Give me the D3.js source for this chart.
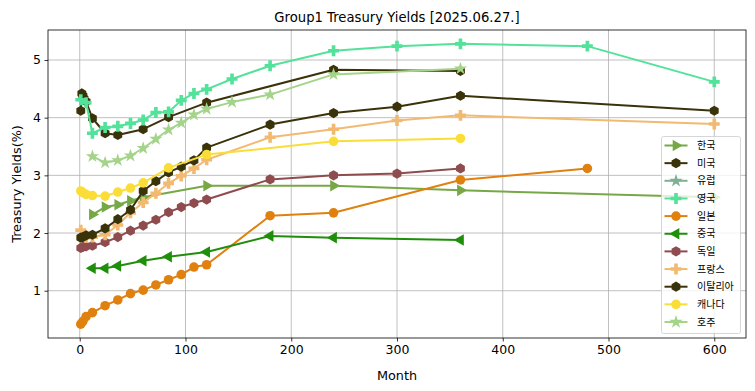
<!DOCTYPE html>
<html><head><meta charset="utf-8">
<script src="https://cdn.jsdelivr.net/npm/d3@7"></script>
<style>body{margin:0;background:#fff}svg{display:block}text{font-family:"DejaVu Sans",sans-serif}</style>
</head><body><div id="chart"></div>
<script>
const title = "Group1 Treasury Yields [2025.06.27.]";
const xTicks = [0,100,200,300,400,500,600];
const yTicks = [1,2,3,4,5];
const seriesNames = ["한국","미국","유럽","영국","일본","중국","독일","프랑스","이탈리아","캐나다","호주"];
const seriesColors = ["#77A846","#3A3209","#7FB093","#52E29A","#E0800F","#1F8F0B","#8F4C4F","#F1BA70","#3A3209","#FADE37","#A4D38A"];
const seriesMarkers = ["triRight","hex","star","plus","circle","triLeft","hex","plus","hex","circle","star"];

const koreaM = [12,24,36,48,60,120,240,360,600];
const koreaV = [2.32,2.45,2.49,2.56,2.62,2.82,2.82,2.74,2.62];
const usM = [1,2,3,4,6,12,24,36,60,84,120,240,360];
const usV = [4.12,4.42,4.38,4.33,4.28,3.99,3.73,3.70,3.80,4.01,4.26,4.83,4.81];
const euM = [];
const euV = [];
const ukM = [1,6,12,24,36,48,60,72,84,96,108,120,144,180,240,300,360,480,600];
const ukV = [4.31,4.26,3.73,3.83,3.85,3.90,3.96,4.09,4.10,4.30,4.42,4.49,4.67,4.90,5.16,5.24,5.28,5.24,4.62];
const jpM = [1,3,6,12,24,36,48,60,72,84,96,108,120,180,240,360,480];
const jpV = [0.42,0.47,0.55,0.62,0.74,0.84,0.95,1.01,1.10,1.19,1.28,1.41,1.45,2.30,2.35,2.92,3.12];
const cnM = [12,24,36,60,84,120,180,240,360];
const cnV = [1.39,1.39,1.43,1.52,1.59,1.67,1.95,1.92,1.88];
const deM = [1,3,6,12,24,36,48,60,72,84,96,108,120,180,240,300,360];
const deV = [1.74,1.76,1.77,1.78,1.84,1.93,2.04,2.13,2.23,2.36,2.45,2.52,2.58,2.93,3.00,3.03,3.12];
const frM = [1,3,6,12,24,36,48,60,72,84,96,108,120,180,240,300,360,600];
const frV = [2.05,1.95,1.92,1.93,1.97,2.14,2.35,2.53,2.69,2.86,2.99,3.12,3.27,3.66,3.80,3.95,4.04,3.89];
const itM = [1,3,6,12,24,36,48,60,72,84,96,108,120,180,240,300,360,600];
const itV = [1.92,1.93,1.96,1.97,2.08,2.24,2.40,2.73,2.90,3.05,3.15,3.26,3.48,3.88,4.08,4.19,4.38,4.12];
const caM = [1,3,6,12,24,36,48,60,84,120,240,360];
const caV = [2.73,2.70,2.67,2.65,2.64,2.71,2.78,2.87,3.13,3.36,3.59,3.64];
const auM = [12,24,36,48,60,72,84,96,108,120,144,180,240,360];
const auV = [3.33,3.22,3.26,3.34,3.47,3.63,3.79,3.91,4.05,4.15,4.27,4.40,4.75,4.85];

const seriesM = [koreaM,usM,euM,ukM,jpM,cnM,deM,frM,itM,caM,auM];
const seriesV = [koreaV,usV,euV,ukV,jpV,cnV,deV,frV,itV,caV,auV];

const W = 755, H = 391;
const L = 48, R = 746, T = 30, B = 338;
const svg = d3.select("#chart").append("svg").attr("width",W).attr("height",H);
const x = d3.scaleLinear().domain([-30,630]).range([L,R]);
const y = d3.scaleLinear().domain([0.18,5.52]).range([B,T]);

// grid
const g = svg.append("g");
g.selectAll(".gx").data(xTicks).enter().append("line")
  .attr("x1",d=>x(d)).attr("x2",d=>x(d)).attr("y1",T).attr("y2",B)
  .attr("stroke","#b0b0b0").attr("stroke-width",0.8);
g.selectAll(".gy").data(yTicks).enter().append("line")
  .attr("y1",d=>y(d)).attr("y2",d=>y(d)).attr("x1",L).attr("x2",R)
  .attr("stroke","#b0b0b0").attr("stroke-width",0.8);

// axes
const xAxis = d3.axisBottom(x).tickValues(xTicks).tickSize(3.5).tickPadding(3.5).tickFormat(d3.format("d"));
const yAxis = d3.axisLeft(y).tickValues(yTicks).tickSize(3.5).tickPadding(3.5).tickFormat(d3.format("d"));
const ax = svg.append("g").attr("transform",`translate(0,${B})`).call(xAxis);
const ay = svg.append("g").attr("transform",`translate(${L},0)`).call(yAxis);
[ax,ay].forEach(a=>{a.select(".domain").remove();
  a.selectAll("text").attr("font-size",12.5).attr("fill","#000").style("font-family","DejaVu Sans");
  a.selectAll("line").attr("stroke","#000").attr("stroke-width",0.8);});

function markerPath(type){
  const r = 5.1;
  if(type==="hex"){
    const pts = d3.range(6).map(i=>{const a=Math.PI/2+i*Math.PI/3;return [r*Math.cos(a),-r*Math.sin(a)];});
    return "M"+pts.map(p=>p.join(",")).join("L")+"Z";
  }
  if(type==="circle") return d3.symbol(d3.symbolCircle,72)();
  if(type==="star") return d3.symbol(d3.symbolStar,55)();
  if(type==="plus") return d3.symbol(d3.symbolCross,66)();
  if(type==="triRight"||type==="triLeft") return d3.symbol(d3.symbolTriangle,58)();
  return d3.symbol(d3.symbolCircle,70)();
}
function markerRot(type){ return type==="triRight"?90:(type==="triLeft"?-90:0); }

const plot = svg.append("g");
const line = d3.line().x(d=>x(d[0])).y(d=>y(d[1]));
seriesNames.forEach((name,i)=>{
  const pts = seriesM[i].map((m,j)=>[m,seriesV[i][j]]);
  const gs = plot.append("g");
  gs.append("path").datum(pts).attr("d",line).attr("fill","none")
    .attr("stroke",seriesColors[i]).attr("stroke-width",2).attr("stroke-linejoin","round");
  gs.selectAll("path.m").data(pts).enter().append("path").attr("class","m")
    .attr("d",markerPath(seriesMarkers[i]))
    .attr("transform",d=>`translate(${x(d[0])},${y(d[1])}) rotate(${markerRot(seriesMarkers[i])})`)
    .attr("fill",seriesColors[i]);
});

// frame
svg.append("rect").attr("x",L).attr("y",T).attr("width",R-L).attr("height",B-T)
  .attr("fill","none").attr("stroke","#000").attr("stroke-width",0.8);

// titles
svg.append("text").attr("x",(L+R)/2).attr("y",21.5).attr("text-anchor","middle")
  .attr("font-size",13.2).text(title);
svg.append("text").attr("x",(L+R)/2).attr("y",379.5).attr("text-anchor","middle")
  .attr("font-size",12.8).text("Month");
svg.append("text").attr("transform",`translate(20.5,${(T+B)/2}) rotate(-90)`).attr("text-anchor","middle")
  .attr("font-size",12.8).text("Treasury Yields(%)");

// legend
const lg = svg.append("g");
lg.append("rect").attr("x",661.5).attr("y",136.5).attr("width",79).attr("height",197).attr("rx",2)
  .attr("fill","#fff").attr("fill-opacity",0.8).attr("stroke","#cccccc").attr("stroke-width",0.8);
seriesNames.forEach((name,i)=>{
  const yy = 145.5 + i*17.65;
  lg.append("line").attr("x1",664.5).attr("x2",687.5).attr("y1",yy).attr("y2",yy)
    .attr("stroke",seriesColors[i]).attr("stroke-width",2);
  lg.append("path").attr("d",markerPath(seriesMarkers[i]))
    .attr("transform",`translate(676,${yy}) rotate(${markerRot(seriesMarkers[i])})`)
    .attr("fill",seriesColors[i]);
  lg.append("text").attr("x",697).attr("y",yy).attr("dy","0.35em").attr("font-size",10)
    .style("font-family","'Noto Sans CJK KR',sans-serif").text(name);
});
</script></body></html>
